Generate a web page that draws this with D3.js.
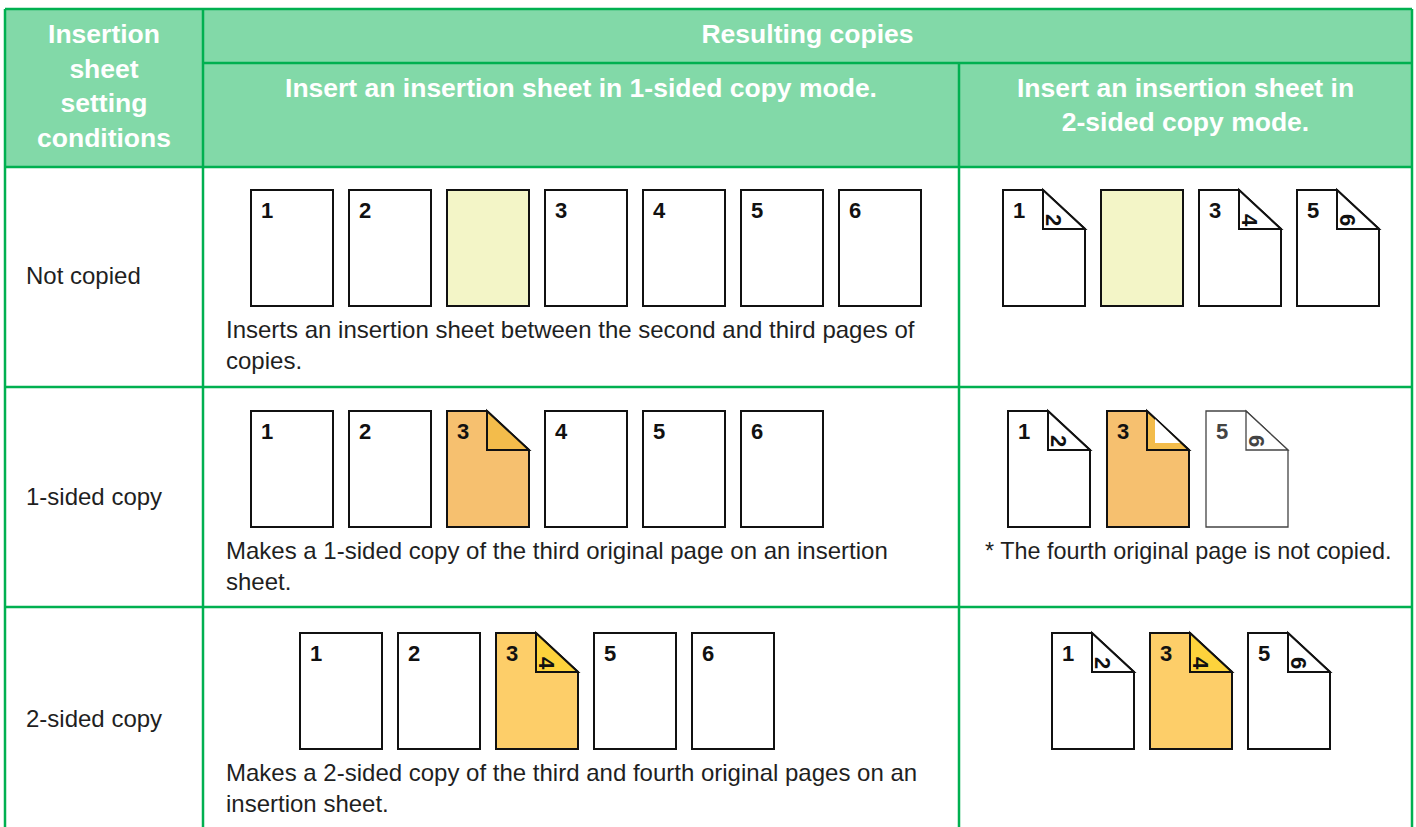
<!DOCTYPE html>
<html><head><meta charset="utf-8">
<script src="https://cdn.jsdelivr.net/npm/d3@7"></script>
<style>html,body{margin:0;padding:0;background:#fff;}svg{display:block;font-family:"Liberation Sans",Arial,sans-serif;}</style>
</head><body>
<script>
// ---- data ----
const headerLeft = ["Insertion", "sheet", "setting", "conditions"];
const headerTop = "Resulting copies";
const headerCol1 = ["Insert an insertion sheet in 1-sided copy mode."];
const headerCol2 = ["Insert an insertion sheet in", "2-sided copy mode."];
const rowLabels = ["Not copied", "1-sided copy", "2-sided copy"];
const desc1 = [
  ["Inserts an insertion sheet between the second and third pages of", "copies."],
  ["Makes a 1-sided copy of the third original page on an insertion", "sheet."],
  ["Makes a 2-sided copy of the third and fourth original pages on an", "insertion sheet."]
];
const desc2 = [[], ["* The fourth original page is not copied."], []];
// page sequences: front label, back label (folded corner), kind
const seq1 = [
  [["1",null,"plain"],["2",null,"plain"],[null,null,"insert"],["3",null,"plain"],["4",null,"plain"],["5",null,"plain"],["6",null,"plain"]],
  [["1",null,"plain"],["2",null,"plain"],["3","","orange"],["4",null,"plain"],["5",null,"plain"],["6",null,"plain"]],
  [["1",null,"plain"],["2",null,"plain"],["3","4","gold"],["5",null,"plain"],["6",null,"plain"]]
];
const seq2 = [
  [["1","2","plain"],[null,null,"insert"],["3","4","plain"],["5","6","plain"]],
  [["1","2","plain"],["3","","orangeW"],["5","6","light"]],
  [["1","2","plain"],["3","4","gold"],["5","6","plain"]]
];

const W = 1416, H = 827;
const green = "#00b050", headFill = "#82d9a8", ink = "#1f1f1f";
const colX = [5, 203, 959, 1412];
const rowY = [9, 63, 167, 387, 607, 827];

const svg = d3.select("body").append("svg").attr("width", W).attr("height", H);

// header fill
svg.append("rect").attr("x", colX[0]).attr("y", rowY[0]).attr("width", colX[3]-colX[0]).attr("height", rowY[2]-rowY[0]).attr("fill", headFill);

// grid lines
const lines = [
  [colX[0], rowY[0], colX[3], rowY[0]],
  [colX[1], rowY[1], colX[3], rowY[1]],
  [colX[0], rowY[2], colX[3], rowY[2]],
  [colX[0], rowY[3], colX[3], rowY[3]],
  [colX[0], rowY[4], colX[3], rowY[4]],
  [colX[0], rowY[0], colX[0], H],
  [colX[1], rowY[0], colX[1], H],
  [colX[2], rowY[1], colX[2], H],
  [colX[3], rowY[0], colX[3], H]
];
svg.selectAll("line.grid").data(lines).join("line").attr("class","grid")
  .attr("x1", d=>d[0]).attr("y1", d=>d[1]).attr("x2", d=>d[2]).attr("y2", d=>d[3])
  .attr("stroke", green).attr("stroke-width", 2.5);

// header texts
const hdr = svg.append("g").attr("fill", "#fff").attr("font-weight", "bold").attr("font-size", 26.5).attr("text-anchor", "middle");
const hl = d3.scaleLinear().domain([0,1]).range([43, 77.5]);
hdr.selectAll("text.hl").data(headerLeft).join("text").attr("class","hl")
  .attr("x", (colX[0]+colX[1])/2).attr("y", (d,i)=>hl(i)).text(d=>d);
hdr.append("text").attr("x", (colX[1]+colX[3])/2).attr("y", 43).text(headerTop);
hdr.selectAll("text.h1").data(headerCol1).join("text").attr("class","h1")
  .attr("x", (colX[1]+colX[2])/2).attr("y", (d,i)=>97+i*34).text(d=>d);
hdr.selectAll("text.h2").data(headerCol2).join("text").attr("class","h2")
  .attr("x", (colX[2]+colX[3])/2).attr("y", (d,i)=>97+i*34).text(d=>d);

// row labels
const rowBase = [284, 505, 727];
svg.selectAll("text.rl").data(rowLabels).join("text").attr("class","rl")
  .attr("x", 26).attr("y", (d,i)=>rowBase[i]).attr("font-size", 24).attr("fill", ink).text(d=>d);

// descriptions
const descBase = [338, 559, 781];
desc1.forEach((ls, r) => {
  svg.selectAll("text.d1r"+r).data(ls).join("text").attr("class","d1r"+r)
    .attr("x", 226).attr("y", (d,i)=>descBase[r]+i*31).attr("font-size", 24).attr("fill", ink).text(d=>d);
});
desc2.forEach((ls, r) => {
  svg.selectAll("text.d2r"+r).data(ls).join("text").attr("class","d2r"+r)
    .attr("x", 985).attr("y", (d,i)=>descBase[r]+i*31).attr("font-size", 23.4).attr("fill", ink).text(d=>d);
});

// pages
const PW = 82, PH = 116, FW = 42, FH = 39;
const fills = {
  plain: ["#fff", "#fff"], light: ["#fff", "#fff"], insert: ["#f3f5c7", null],
  orange: ["#f6c06f", "#f3bc4b"], orangeW: ["#f6c06f", "#f3bc4b"], gold: ["#fdce69", "#fdd33c"]
};
const cellTop = [190, 411, 633];
const start1 = [251, 251, 300];
const start2 = [1003, 1008, 1052];
const step2 = [98, 99, 98];

function drawPage(g, x, y, d) {
  const [front, back, kind] = d;
  const [fill, foldFill] = fills[kind];
  const strokeC = kind === "light" ? "#444" : "#111";
  const sw = kind === "light" ? 1.3 : 2;
  const folded = back !== null;
  const p = d3.path();
  if (folded) {
    p.moveTo(x, y); p.lineTo(x+PW-FW, y); p.lineTo(x+PW, y+FH); p.lineTo(x+PW, y+PH); p.lineTo(x, y+PH); p.closePath();
  } else {
    p.rect(x, y, PW, PH);
  }
  g.append("path").attr("d", p.toString()).attr("fill", fill).attr("stroke", strokeC).attr("stroke-width", sw).attr("stroke-linejoin","miter");
  if (folded) {
    const f = d3.path();
    f.moveTo(x+PW-FW, y); f.lineTo(x+PW-FW, y+FH); f.lineTo(x+PW, y+FH); f.closePath();
    g.append("path").attr("d", f.toString()).attr("fill", foldFill).attr("stroke", strokeC).attr("stroke-width", sw).attr("stroke-linejoin","miter");
    if (kind === "orangeW") {
      const w = d3.path();
      w.moveTo(x+PW-FW+8, y+8); w.lineTo(x+PW-FW+8, y+FH-7); w.lineTo(x+PW-9, y+FH-7); w.closePath();
      g.append("path").attr("d", w.toString()).attr("fill", "#fff");
    }
    if (back) {
      g.append("text").attr("transform", `translate(${x+PW-FW+3},${y+FH-9}) rotate(90)`)
        .attr("text-anchor","middle").attr("font-size", 22).attr("font-weight","bold").attr("fill", strokeC).text(back);
    }
  }
  if (front) {
    g.append("text").attr("x", x+10).attr("y", y+28).attr("font-size", 22).attr("font-weight","bold").attr("fill", strokeC).text(front);
  }
}

const pagesG = svg.append("g");
seq1.forEach((row, r) => {
  const xs = d3.scaleLinear().domain([0,1]).range([start1[r], start1[r]+98]);
  row.forEach((d,i) => drawPage(pagesG, xs(i), cellTop[r], d));
});
seq2.forEach((row, r) => {
  const xs = d3.scaleLinear().domain([0,1]).range([start2[r], start2[r]+step2[r]]);
  row.forEach((d,i) => drawPage(pagesG, xs(i), cellTop[r], d));
});
</script>
</body></html>
